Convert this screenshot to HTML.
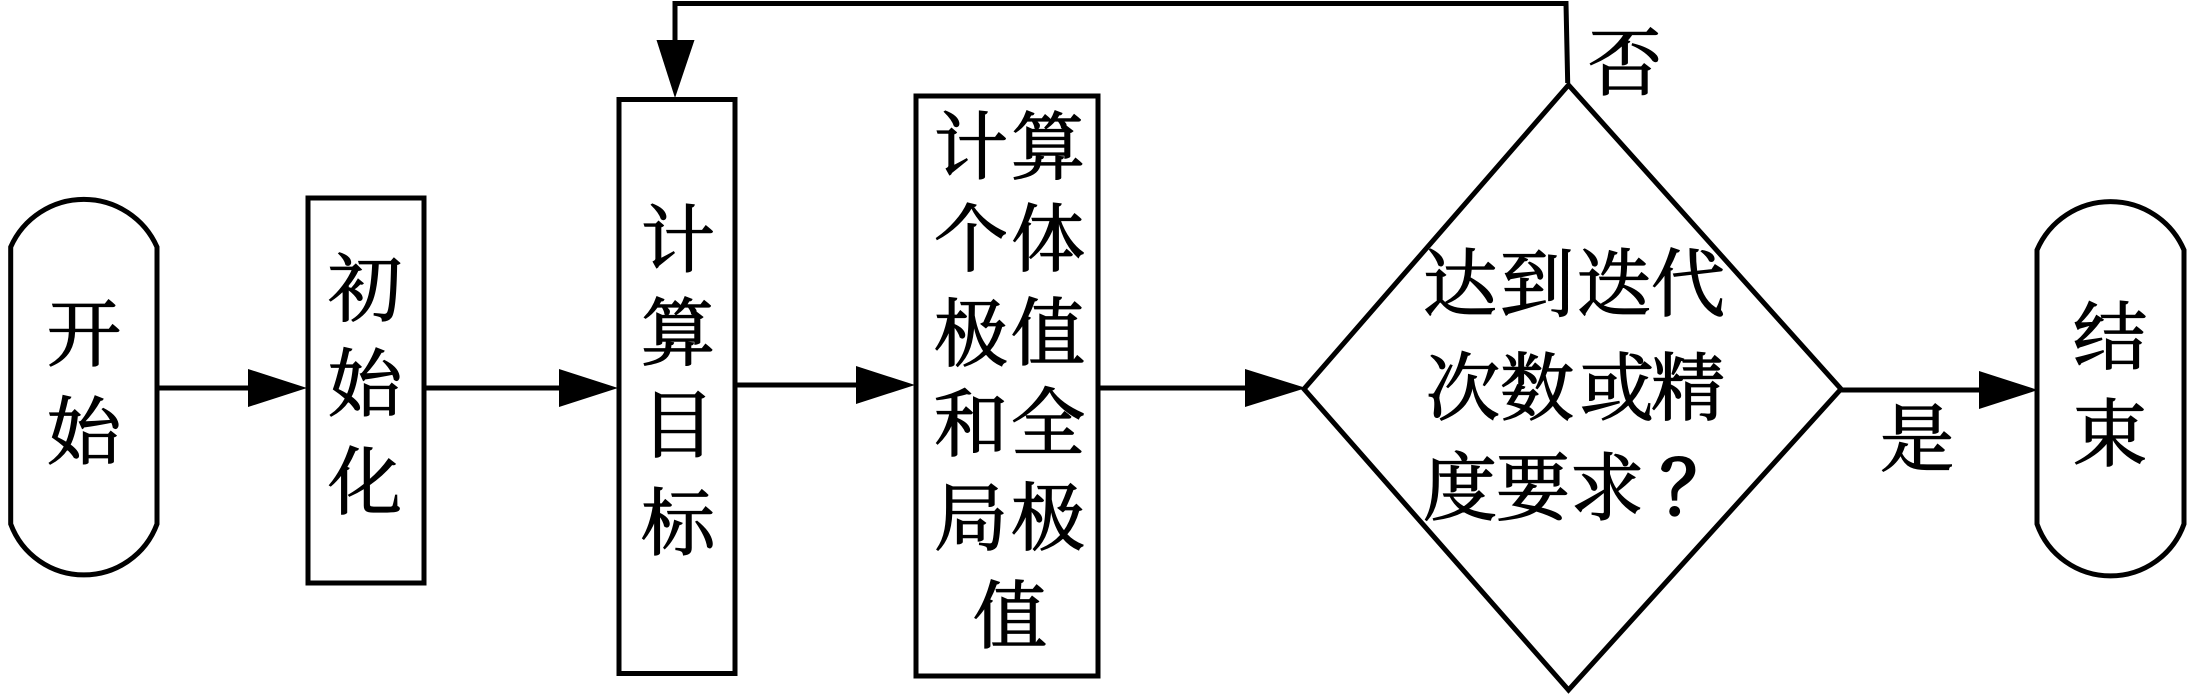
<!DOCTYPE html>
<html><head><meta charset="utf-8">
<style>
html,body{margin:0;padding:0;background:#fff;width:2195px;height:696px;overflow:hidden}
svg{display:block}
text{font-family:"Liberation Serif","Noto Serif CJK SC",serif;font-size:74px;text-anchor:middle;fill:#000;stroke:#000;stroke-width:1.3px}
</style></head><body>
<svg width="2195" height="696" viewBox="0 0 2195 696" xmlns="http://www.w3.org/2000/svg">
<g fill="none" stroke="#000" stroke-width="5" stroke-linejoin="miter">
<path d="M10.7,247 A80,80 0 0 1 157,247 V524 A78,78 0 0 1 10.7,524 Z"/>
<path d="M2037,250 A80,80 0 0 1 2184,250 V524 A78,78 0 0 1 2037,524 Z"/>
<rect x="308" y="198" width="116" height="385"/>
<rect x="619" y="99.5" width="116" height="574"/>
<rect x="916" y="96" width="182" height="580"/>
<path d="M1304,389 L1568.5,85 L1841,389 L1568.5,690 Z"/>
<path d="M158,388 H250 M425,388 H560 M735,385 H858 M1098,388 H1247 M1841,390 H1980"/>
<path d="M675,45 V3.5 H1566 L1567.7,83"/>
</g>
<g fill="#000">
<polygon points="248,369 307,388 248,407"/>
<polygon points="559,369 618,388 559,407"/>
<polygon points="856,366 915,385 856,404"/>
<polygon points="1245,369 1306,388 1245,407"/>
<polygon points="1979,371 2038,390 1979,409"/>
<polygon points="656.5,40 694.5,40 675,98"/>
</g>
<text x="84" y="360">开</text>
<text x="84" y="458">始</text>
<text x="365" y="315">初</text>
<text x="365" y="410">始</text>
<text x="365" y="508">化</text>
<text x="678" y="266">计</text>
<text x="678" y="359">算</text>
<text x="678" y="451">目</text>
<text x="678" y="549">标</text>
<text x="971" y="173">计</text>
<text x="971" y="265">个</text>
<text x="971" y="360">极</text>
<text x="971" y="450">和</text>
<text x="971" y="544">局</text>
<text x="1048" y="173">算</text>
<text x="1048" y="265">体</text>
<text x="1048" y="359">值</text>
<text x="1048" y="449">全</text>
<text x="1048" y="544">极</text>
<text x="1010" y="642">值</text>
<text x="1460" y="310">达</text>
<text x="1537" y="310">到</text>
<text x="1614" y="310">迭</text>
<text x="1688" y="310">代</text>
<text x="1463" y="414">次</text>
<text x="1537" y="414">数</text>
<text x="1617" y="414">或</text>
<text x="1688" y="414">精</text>
<text x="1460" y="514">度</text>
<text x="1533" y="514">要</text>
<text x="1607" y="514">求</text>
<text x="1697" y="514" style="stroke-width:3px">？</text>
<text x="1625" y="89">否</text>
<text x="1917" y="465">是</text>
<text x="2110" y="363">结</text>
<text x="2110" y="460">束</text>
</svg>
</body></html>
